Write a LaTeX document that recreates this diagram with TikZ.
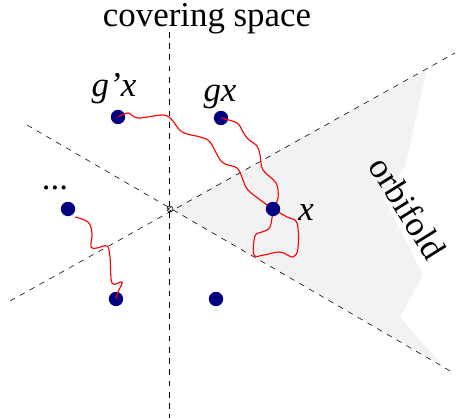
\documentclass[tikz,border=0pt]{standalone}
\usepackage{fontspec}
\setmainfont{Liberation Serif}
\definecolor{dotblue}{RGB}{0,0,128}
\tikzset{
  dot/.style={circle, fill=dotblue, inner sep=0pt, minimum size=0.36cm},
  mirror/.style={dashed, thin, dash pattern=on 4pt off 4pt},
  walk/.style={red, line width=0.8pt, smooth, tension=0.6}
}
\begin{document}
\begin{tikzpicture}[x=0.025cm, y=-0.025cm, font=\fontsize{24.8}{28}\selectfont]
    \useasboundingbox (0, 0) rectangle (456, 418);
    \coordinate (o) at (170, 209);
    % fundamental domain
    \fill[black!5] (o) -- (427, 69) -- (405, 167) -- (383, 197) -- (423, 275) -- (400, 317) -- (442, 365) -- cycle;
    % mirror lines
    \draw[mirror] (169, 32) -- (169, 418);
    \draw[mirror] (10, 301) -- (455, 53);
    \draw[mirror] (27, 125) -- (452, 372);
    \draw[thin] (o) circle (3);
    \draw[thin] (171, 207) -- (168, 209) -- (171, 211);
    % orbit points
    \foreach \name/\x/\y in {gpx/118/117, gx/221/118, dots/68/209, ll/116/299, lr/216/299}
      \node[dot] (\name) at (\x, \y) {};
    \coordinate (x) at (273, 209);
    % paths
    \draw[walk] plot coordinates {(gpx) (128, 113) (138, 118) (163, 115) (172, 120) (182, 132) (200, 137) (210, 142) (222, 162) (237, 168) (243, 180) (248, 190) (263, 202) (x)};
    \draw[walk] plot coordinates {(gx) (237, 123) (243, 132) (248, 139) (257, 146) (260, 155) (263, 170) (276, 183) (278, 198) (x)};
    \draw[walk] plot coordinates {(x) (270, 227) (262, 232) (255, 236) (254, 255) (264, 255) (280, 252) (293, 257) (298, 248) (297, 223) (287, 217) (x)};
    \draw[walk] plot coordinates {(75, 217) (88, 222) (92, 233) (91, 247) (97, 248) (107, 246) (110, 257) (112, 283) (122, 282) (118, 292) (ll)};
    \node[dot] (xdot) at (x) {};
    % labels
    \node[anchor=base] (cover) at (207, 27) {covering space};
    \node[anchor=base] (gpxlabel) at (114, 97) {\textit{g'x}};
    \node[anchor=base] (gxlabel) at (220, 102) {\textit{gx}};
    \node[anchor=base] (xlabel) at (306, 221) {\textit{x}};
    \node[anchor=base] (dotslabel) at (55, 190) {...};
    \node[rotate=-58] (orbi) at (408, 208) {orbifold};
  \end{tikzpicture}
\end{document}
